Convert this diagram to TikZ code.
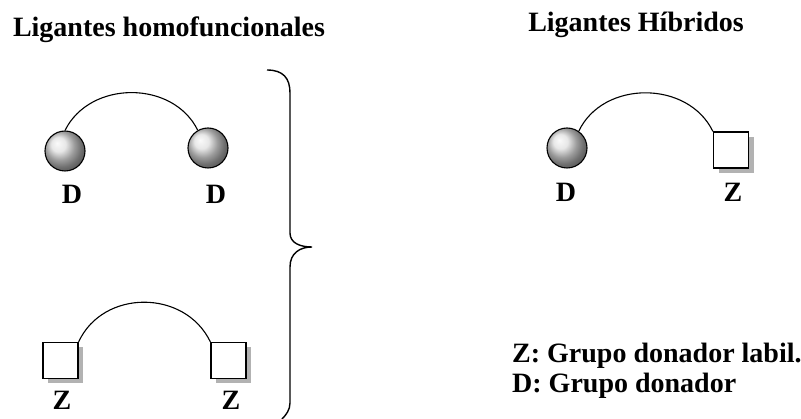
\documentclass[tikz,border=0pt]{standalone}
\usepackage{fontspec}
\setmainfont{Liberation Serif}
\usetikzlibrary{shadows}
\begin{document}
\begin{tikzpicture}[x=1pt,y=-1pt,
  lbl/.style={font=\fontsize{28}{30}\selectfont\bfseries, inner sep=0pt, anchor=base},
  ballnode/.style={circle, minimum size=40pt, inner sep=0pt, draw=black, line width=1.1pt, shading=ball, ball color=gray!25},
  sqnode/.style={rectangle, minimum width=35pt, minimum height=36pt, inner sep=0pt, draw=black, line width=1.3pt, fill=white,
     drop shadow={shadow xshift=5pt, shadow yshift=-5pt, fill=gray!60, opacity=1}},
  link/.style={line width=1.1pt},
  bracestyle/.style={line width=1.4pt}]
\useasboundingbox (0,0) rectangle (801,419);

% titles
\node[lbl] (t1) at (169,37) {Ligantes homofuncionales};
\node[lbl] (t2) at (636,32) {Ligantes Híbridos};

% homofunctional D-D
\node[ballnode] (d1) at (65,151) {};
\node[ballnode] (d2) at (208,148) {};
\draw[link] (d1.north) .. controls (90,80) and (173,80) .. (d2.120);
\node[lbl] (ld1) at (72,204) {D};
\node[lbl] (ld2) at (216,204) {D};

% homofunctional Z-Z
\node[sqnode] (z1) at (60.5,360.5) {};
\node[sqnode] (z2) at (228.5,360.5) {};
\draw[link] (z1.north east) .. controls (103,289) and (185,289) .. (z2.north west);
\node[lbl] (lz1) at (62,410) {Z};
\node[lbl] (lz2) at (231,410) {Z};

% hybrid D-Z
\node[ballnode] (d3) at (567,148) {};
\node[sqnode] (z3) at (731,150) {};
\draw[link] (d3.55) .. controls (603,80) and (688,80) .. (z3.north west);
\node[lbl] (ld3) at (566,202) {D};
\node[lbl] (lz3) at (733,202) {Z};

% brace
\coordinate (bt) at (267,70);
\coordinate (bm) at (312,247);
\coordinate (bb) at (282,419);
\draw[bracestyle] (bt) .. controls (283,70) and (290,78) .. (290,93)
  -- (290,233) .. controls (290,243) and (300,247) .. (bm)
  .. controls (300,247) and (290,253) .. (290,267)
  -- (290,403) .. controls (290,410) and (286,415) .. (bb);

% legend
\node[lbl, anchor=base west] (leg1) at (512,363) {Z: Grupo donador labil.};
\node[lbl, anchor=base west] (leg2) at (512,393) {D: Grupo donador};
\end{tikzpicture}
\end{document}
